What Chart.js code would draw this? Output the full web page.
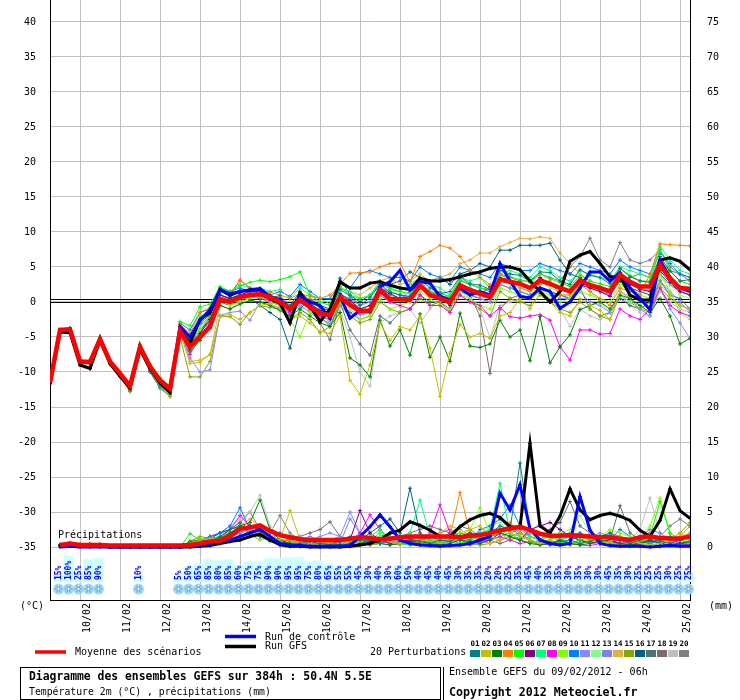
<!DOCTYPE html>
<html>
<head>
<meta charset="utf-8">
<script src="https://cdn.jsdelivr.net/npm/chart.js@4.4.1/dist/chart.umd.min.js"></script>
<style>
  body { margin: 0; background: #fff; }
  canvas { display: block; }
</style>
</head>
<body>
<canvas id="ensemble" width="740" height="700"></canvas>
<script>
// forecast steps (hours after 09/02/2012 06h)
const hours = [0,6,12,18,24,30,36,42,48,54,60,66,72,78,84,90,96,102,108,114,120,126,132,138,144,150,156,162,168,174,180,186,192,198,204,210,216,222,228,234,240,246,252,258,264,270,276,282,288,294,300,306,312,318,324,330,336,342,348,354,360,366,372,378,384];
const dayHours = [18,42,66,90,114,138,162,186,210,234,258,282,306,330,354,378];
const dayLabels = ["10/02","11/02","12/02","13/02","14/02","15/02","16/02","17/02","18/02","19/02","20/02","21/02","22/02","23/02","24/02","25/02"];
const tempTicks = [-35,-30,-25,-20,-15,-10,-5,0,5,10,15,20,25,30,35,40];
const rainTicks = [0,5,10,15,20,25,30,35,40,45,50,55,60,65,70,75];
const tempRange = [-42.57, 43.14];
const rainOffset = 35;

// probability of precipitation (%), per step
const rainProb = [null,15,100,25,85,90,null,null,null,10,null,null,null,
  5,50,65,85,80,85,60,75,75,90,90,95,95,
  75,80,65,55,55,45,30,40,30,60,50,40,45,
  40,45,30,35,35,20,20,25,35,45,40,35,35,
  30,35,30,30,45,35,30,25,25,25,30,25,25];

// 2m temperature (°C)
const tMean = [-11.5,-4.0,-3.9,-8.5,-8.6,-5.3,-8.5,-10.2,-12.0,-6.4,-9.2,-11.2,-12.4,
  -4.2,-6.4,-5.0,-3.5,0.4,0.0,0.7,1.0,1.1,0.7,0.0,-1.0,0.3,
  -0.7,-1.6,-1.9,0.7,-0.4,-1.3,-1.2,1.7,0.4,0.4,0.3,2.4,1.0,
  0.5,0.0,2.4,1.7,1.2,0.7,3.2,2.9,2.6,2.0,3.1,2.6,2.0,
  1.5,3.1,2.4,2.0,1.5,3.9,2.9,2.2,2.2,5.3,3.4,2.0,1.9];
const tControl = [-11.5,-4.0,-3.8,-8.5,-8.5,-5.2,-8.5,-10.2,-12.0,-6.3,-9.2,-11.2,-12.4,
  -3.5,-5.0,-2.6,-1.1,1.7,1.2,1.5,1.7,1.9,0.8,0.3,-1.1,0.8,
  0.0,-0.5,-2.3,0.8,-2.3,-1.2,-1.4,2.2,2.9,4.5,1.7,2.9,2.7,
  0.8,0.3,2.0,1.0,1.5,1.0,5.5,3.0,0.8,0.6,2.0,1.5,-0.9,
  0.0,2.0,4.3,4.3,3.0,4.2,2.0,0.5,-1.1,6.0,3.5,2.0,1.5];
const tGfs = [-11.7,-4.3,-4.4,-9.0,-9.5,-5.5,-8.8,-10.6,-12.3,-6.8,-9.5,-11.5,-12.9,
  -4.0,-5.9,-2.5,-1.5,1.8,1.0,1.5,1.7,1.8,0.5,-0.2,-3.0,1.3,
  -0.5,-2.8,-1.0,2.9,2.0,2.0,2.7,2.9,2.4,2.0,1.8,3.4,3.0,
  3.0,3.2,3.6,4.0,4.3,4.8,5.0,5.0,4.6,3.0,1.5,0.0,1.5,
  5.8,6.7,7.2,5.5,3.6,3.6,1.0,0.3,0.3,6.0,6.3,5.8,4.6];

const t01 = [-11.5,-4.1,-3.9,-8.4,-8.7,-5.2,-8.7,-10.6,-12.5,-6.8,-9.8,-12.0,-13.0,
  -3.6,-5.5,-3.0,-1.8,1.6,0.8,1.5,1.8,1.2,0.6,0.9,-0.5,1.5,
  0.2,-0.8,-1.2,1.8,0.9,-0.5,0.6,2.5,1.4,1.0,0.8,3.2,2.0,
  1.2,1.5,3.6,2.6,2.4,1.8,4.5,4.0,3.8,3.0,4.3,4.2,3.0,
  2.5,4.6,3.8,3.5,2.6,4.8,3.6,3.0,2.8,6.5,4.4,3.0,3.2];
const t02 = [-11.5,-4.3,-4.0,-8.7,-8.9,-5.6,-8.9,-10.5,-12.7,-6.8,-9.7,-12.2,-13.4,
  -4.0,-8.8,-8.6,-7.5,-2.0,-1.8,-2.5,-1.5,-0.5,-0.2,-1.0,-2.5,-2.0,
  -3.0,-4.2,-4.5,-2.0,-11.2,-13.2,-9.0,-3.0,-5.5,-3.5,-4.0,-2.0,-6.6,
  -13.5,-7.3,-3.2,-5.0,-4.5,-5.2,-2.0,-1.5,0.5,-1.0,1.2,0.0,-1.5,
  -2.0,0.5,-0.5,-1.2,-2.5,1.5,0.8,0.2,-0.8,2.5,1.0,-0.5,-1.0];
const t03 = [-11.5,-4.0,-3.8,-8.5,-8.5,-5.3,-8.5,-10.4,-12.3,-6.6,-9.5,-11.8,-12.8,
  -4.5,-7.0,-5.5,-3.5,-0.5,-1.0,-0.3,0.2,0.0,-0.5,-1.2,-2.0,-1.0,
  -2.0,-3.0,-3.5,-1.5,-8.0,-9.0,-10.7,-2.6,-6.3,-4.0,-7.6,-1.7,-7.9,
  -5.0,-8.5,-1.6,-6.3,-6.5,-6.0,-2.6,-5.0,-4.0,-8.4,-2.1,-8.7,-6.4,
  -4.7,-1.1,-0.5,0.0,-1.0,1.0,0.5,-0.5,-1.5,0.5,-2.0,-6.0,-5.2];
const t04 = [-11.5,-4.0,-3.9,-8.4,-8.6,-5.2,-8.4,-10.1,-11.9,-6.3,-9.1,-11.0,-12.2,
  -3.2,-4.5,-1.5,-0.8,1.8,1.2,3.1,2.0,1.5,1.4,1.0,0.5,1.2,
  0.8,0.5,1.0,2.5,4.1,4.2,4.3,5.0,5.5,5.6,2.9,6.5,7.2,
  8.1,7.7,6.5,4.6,3.5,2.5,4.0,3.0,2.0,1.5,2.5,3.0,1.0,
  1.0,2.5,1.5,0.5,-0.5,2.0,1.5,1.0,4.0,8.3,8.2,8.1,8.0];
const t05 = [-11.5,-4.0,-3.7,-8.3,-8.3,-5.0,-8.3,-10.0,-11.8,-6.1,-8.9,-10.8,-12.0,
  -2.8,-3.4,-0.7,-0.3,2.2,1.5,2.3,2.8,3.1,2.9,3.2,3.6,4.3,
  1.0,0.5,-0.3,2.2,1.0,0.5,0.8,2.8,1.8,1.5,1.2,3.0,1.5,
  1.2,0.8,3.2,2.5,2.0,1.8,3.8,3.6,3.2,2.8,4.0,3.3,2.8,
  2.2,3.8,3.0,2.6,2.2,4.8,3.8,3.0,3.0,7.5,4.5,3.0,2.5];
const t06 = [-11.5,-4.1,-3.9,-8.5,-8.6,-5.3,-8.6,-10.2,-12.2,-6.5,-9.4,-11.5,-12.6,
  -4.0,-6.0,-4.5,-2.5,1.0,0.5,1.0,1.5,1.4,0.8,0.5,-0.6,0.8,
  -0.3,-1.2,-2.0,1.2,0.2,-1.0,-0.5,2.0,1.2,0.5,0.8,2.4,0.9,
  1.0,-0.5,2.5,1.5,1.0,2.2,3.5,3.0,2.8,2.0,3.5,2.5,2.0,
  1.5,2.5,2.0,1.5,0.8,3.5,2.5,1.8,1.5,4.5,2.8,1.5,1.0];
const t07 = [-11.5,-3.9,-3.8,-8.4,-8.5,-5.2,-8.5,-10.2,-12.0,-6.3,-9.2,-11.3,-12.4,
  -3.5,-5.0,-2.0,-1.5,1.5,1.5,2.5,2.0,2.0,1.5,1.8,0.5,2.0,
  1.0,0.0,-0.5,2.0,1.5,0.5,1.0,3.0,2.0,1.5,2.5,3.5,2.5,
  2.0,1.0,3.5,3.0,3.5,2.0,4.0,4.5,4.0,3.5,5.0,4.5,3.5,
  3.0,4.5,4.0,3.5,3.0,5.0,4.5,4.0,3.5,8.0,6.0,4.5,4.0];
const t08 = [-11.5,-4.0,-3.9,-8.6,-8.7,-5.4,-8.6,-10.3,-12.2,-6.6,-9.6,-11.7,-12.7,
  -4.5,-7.5,-5.0,-3.0,1.5,1.0,3.1,2.0,1.0,0.2,0.5,-1.5,0.0,
  -1.0,-2.0,-2.5,0.5,-0.5,-1.5,-1.0,1.5,0.0,-0.5,-1.0,1.0,-0.5,
  -0.5,-1.5,1.0,0.0,-0.5,-2.0,-0.8,-2.1,-2.3,-2.0,-1.8,-2.6,-6.4,
  -8.3,-4.0,-4.0,-4.6,-4.5,-1.0,-2.0,-2.5,-1.0,2.0,-0.5,-1.5,-2.0];
const t09 = [-11.5,-4.0,-3.8,-8.5,-8.5,-5.3,-8.5,-10.2,-12.1,-6.4,-9.3,-11.4,-12.5,
  -3.8,-6.5,-4.0,-2.0,0.5,-0.5,0.0,0.5,0.8,0.0,-0.5,-2.5,-5.0,
  -1.5,-2.0,-2.8,0.0,-1.0,-2.5,-2.0,0.5,-1.0,-0.5,0.0,1.5,0.5,
  -0.5,-1.0,1.5,0.5,-0.5,-1.0,2.0,1.5,1.0,0.5,1.5,1.0,0.0,
  0.5,1.5,1.0,0.5,0.0,2.5,1.5,1.0,0.5,4.0,1.5,-1.5,-2.5];
const t10 = [-11.5,-4.0,-3.8,-8.4,-8.5,-5.2,-8.4,-10.1,-12.0,-6.3,-9.1,-11.2,-12.3,
  -3.0,-4.0,-1.5,-1.0,2.0,1.5,2.0,1.5,1.5,1.0,1.5,0.8,2.5,
  1.5,0.5,0.5,2.5,2.0,4.0,4.5,4.0,3.5,3.5,3.0,5.0,4.0,
  3.5,3.0,5.0,4.5,4.0,3.5,5.5,5.0,4.5,4.5,5.5,5.0,4.5,
  4.0,5.5,5.0,4.5,4.0,6.0,5.0,4.5,4.0,7.0,5.5,4.0,3.5];
const t11 = [-11.5,-4.1,-3.9,-8.6,-8.8,-5.5,-8.7,-10.5,-12.5,-6.8,-9.8,-12.0,-13.2,
  -4.5,-8.0,-10.0,-9.7,-1.9,-1.5,-1.3,-2.6,0.0,-0.5,-0.8,-1.8,-0.5,
  -1.5,-2.5,-3.0,0.5,-0.5,-1.8,-1.5,1.0,0.0,0.5,1.5,2.5,1.0,
  1.5,0.5,2.0,1.0,0.5,0.0,2.5,2.0,1.5,1.0,2.0,1.5,0.5,
  0.5,1.5,0.0,-0.5,-1.5,1.5,0.5,-1.0,-2.0,2.0,-1.0,-3.0,-5.2];
const t12 = [-11.5,-4.0,-3.9,-8.5,-8.6,-5.3,-8.5,-10.2,-12.1,-6.4,-9.3,-11.3,-12.5,
  -3.8,-5.8,-3.5,-2.5,0.8,0.2,1.2,1.0,1.8,1.0,0.5,-0.8,-1.0,
  -0.5,-1.0,-1.5,1.5,0.0,-1.0,-0.5,2.0,0.8,0.5,0.0,2.0,1.0,
  0.5,0.0,2.0,1.5,1.0,0.5,3.0,2.5,2.0,1.5,3.0,2.0,1.5,
  0.5,2.5,1.5,0.0,-1.5,1.0,0.0,-0.5,0.5,3.5,2.5,1.0,0.5];
const t13 = [-11.5,-4.1,-3.9,-8.5,-8.6,-5.4,-8.6,-10.3,-12.2,-6.6,-9.5,-11.6,-12.7,
  -4.0,-6.0,-4.0,-3.0,0.5,0.0,0.8,1.2,1.0,0.5,0.2,-1.0,0.5,
  0.0,-1.5,-1.5,1.0,0.5,-0.5,0.0,2.0,1.5,1.0,0.5,2.5,1.5,
  1.0,0.5,2.5,2.0,1.5,1.0,3.5,3.0,2.5,2.0,3.0,2.5,2.0,
  1.5,3.0,2.5,2.0,1.0,3.5,2.0,1.0,-1.0,3.0,1.5,0.0,-1.5];
const t14 = [-11.5,-4.1,-4.0,-8.6,-8.7,-5.5,-8.7,-10.4,-12.4,-6.7,-9.6,-11.8,-13.0,
  -4.5,-8.5,-8.3,-7.5,-0.5,-1.0,0.0,0.5,1.0,0.3,0.0,-0.8,0.5,
  0.5,0.0,-0.5,2.0,1.5,1.0,2.0,3.0,3.5,2.5,3.0,4.0,3.0,
  3.5,4.0,5.5,6.0,7.0,7.0,7.9,8.5,9.1,9.0,9.3,9.1,7.0,
  5.5,4.0,3.0,2.0,1.5,3.5,2.5,2.0,1.5,5.0,3.0,2.0,1.5];
const t15 = [-11.5,-4.2,-4.0,-8.7,-8.8,-5.6,-8.8,-10.6,-12.6,-6.9,-9.9,-12.2,-13.5,
  -5.0,-10.7,-10.7,-8.5,-2.1,-2.1,-3.2,-1.5,-0.5,-0.8,-1.0,-2.5,-1.5,
  -2.5,-4.4,-3.5,-0.5,-2.0,-3.0,-2.5,0.0,-1.0,-1.5,-1.0,0.5,-0.5,
  0.0,-1.5,1.0,0.0,-1.0,-2.0,1.5,0.5,0.0,-0.5,1.0,0.0,-1.0,
  -1.5,0.0,-1.0,-2.0,-2.5,1.0,0.0,-1.0,-1.5,2.0,0.5,-0.5,-1.0];
const t16 = [-11.5,-4.1,-3.9,-8.6,-8.7,-5.4,-8.8,-10.6,-12.8,-6.9,-10.0,-12.3,-13.5,
  -4.0,-6.5,-4.5,-2.0,1.0,0.5,1.0,0.5,-0.5,-1.5,-2.5,-6.6,-1.0,
  0.5,-0.5,-1.0,3.4,1.0,0.0,1.0,2.5,2.5,3.0,4.3,3.5,3.0,
  3.5,2.5,4.0,4.5,5.5,5.0,7.4,7.4,8.1,8.1,8.1,8.4,6.0,
  4.0,3.5,2.5,2.0,1.5,3.0,2.0,1.5,1.0,4.0,2.5,1.5,1.0];
const t17 = [-11.5,-4.0,-3.9,-8.5,-8.6,-5.4,-8.7,-10.5,-12.6,-6.7,-9.7,-12.0,-13.2,
  -4.2,-6.8,-5.0,-3.8,0.0,-0.5,0.2,0.8,0.5,0.0,-0.5,-1.5,0.0,
  -1.0,-2.0,-3.5,0.0,-4.0,-6.0,-7.6,-2.0,-3.0,-1.5,-1.0,1.0,0.0,
  0.0,-1.0,1.5,1.0,0.5,0.0,2.5,2.0,1.5,1.0,2.0,1.5,1.0,
  0.5,2.0,-1.0,-2.0,-1.5,0.5,-0.5,-1.0,0.0,3.0,1.0,0.5,-1.0];
const t18 = [-11.5,-4.1,-3.9,-8.6,-8.7,-5.4,-8.7,-10.5,-12.5,-6.7,-9.7,-11.9,-13.1,
  -4.2,-6.5,-4.0,-2.5,0.8,0.3,0.5,1.0,0.8,0.2,-0.3,-1.8,0.0,
  -1.0,-3.0,-5.4,0.0,-1.5,-2.5,-2.0,1.0,0.0,0.5,0.0,2.0,1.0,
  0.5,-0.5,2.0,1.0,-2.0,-10.2,-1.0,0.5,1.0,0.5,2.0,1.5,1.0,
  0.5,2.5,2.0,1.5,1.0,3.0,3.5,4.0,3.5,5.5,4.5,4.0,3.5];
const t19 = [-11.5,-4.0,-3.8,-8.5,-8.6,-5.3,-8.6,-10.3,-12.3,-6.5,-9.4,-11.6,-12.8,
  -3.8,-5.5,-3.0,-2.5,0.5,0.0,0.5,1.0,0.5,0.5,0.0,-1.0,0.5,
  -1.5,-2.5,-3.0,-1.0,-5.0,-10.0,-12.0,-3.0,-2.0,-1.5,-1.0,-3.0,-1.0,
  0.5,-0.5,1.0,0.5,-1.0,-5.1,-0.5,0.0,0.5,0.5,1.5,0.5,-1.0,
  -3.5,-1.0,-2.0,-2.5,-1.5,1.0,-0.5,-1.5,-2.0,1.5,0.0,-1.0,-1.5];
const t20 = [-11.5,-4.0,-3.8,-8.5,-8.5,-5.3,-8.5,-10.4,-12.4,-6.6,-9.6,-11.8,-13.0,
  -4.0,-6.0,-3.5,-2.0,1.0,0.5,1.0,1.5,1.0,0.5,0.0,-1.0,0.5,
  -0.5,-1.5,-2.0,1.0,0.5,-1.0,-0.5,2.0,1.0,0.5,0.5,2.5,1.5,
  1.0,0.5,3.0,2.5,2.0,1.5,4.0,3.5,3.0,3.0,4.0,3.5,3.0,
  5.0,6.5,9.1,6.0,5.0,8.5,6.0,5.5,6.0,7.5,5.0,4.0,3.0];

// 6h precipitation (mm), first step has no accumulation
const pMean = [null,0.3,0.5,0.3,0.3,0.3,0.2,0.2,0.2,0.2,0.2,0.2,0.2,
  0.2,0.3,0.5,0.8,0.9,1.5,2.6,2.8,3.1,2.3,1.7,1.4,1.1,
  1.0,1.0,1.0,1.0,1.2,1.4,1.3,1.1,1.2,1.4,1.5,1.5,1.5,
  1.5,1.5,1.4,1.6,1.7,2.0,2.4,2.6,2.9,2.4,1.9,1.6,1.6,
  1.7,1.6,1.5,1.4,1.4,1.2,1.0,1.4,1.5,1.3,1.2,1.2,1.5];
const pControl = [null,0,0.1,0,0,0,0,0,0,0,0,0,0,
  0,0.1,0.2,0.5,0.8,1.0,1.5,2.0,2.5,1.5,0.5,0.3,0.2,
  0.1,0.1,0.1,0.1,0.2,1.5,2.9,4.6,2.9,1.0,0.5,0.3,0.2,
  0.1,0.2,0.3,0.5,1.0,1.5,7.7,5.3,8.9,2.6,1.0,0.5,0.3,
  0.5,7.2,2.4,0.5,0.2,0.1,0.1,0.1,0,0.1,0.2,0.1,0.1];
const pGfs = [null,0.2,0.4,0.3,0.3,0.1,0,0,0,0,0,0,0,
  0,0,0.1,0.2,0.5,0.8,1.0,1.5,1.8,1.0,0.3,0.1,0.1,
  0,0,0,0,0.1,0.3,0.5,1.0,2.0,2.4,3.6,3.1,2.4,
  1.5,1.5,2.9,3.9,4.5,4.8,4.2,2.9,2.8,14.8,3.0,2.0,4.4,
  8.3,5.3,3.9,4.5,4.8,4.4,3.8,2.4,1.5,3.8,8.3,5.2,4.1];

const p01 = [null,0.3,0.5,0.2,0.4,0.3,0,0,0,0.1,0,0,0,
  0,0.2,0.5,0.8,1.5,2.5,3.0,2.0,1.5,0.8,0.5,0.3,0.5,
  0.8,0.5,0.3,0.2,0.5,1.0,0.8,0.5,1.0,1.5,1.2,0.8,0.5,
  1.0,0.8,1.5,2.0,1.5,2.0,3.0,2.5,12.0,2.5,1.0,0.5,0.8,
  1.0,0.5,0.8,1.5,2.0,1.0,0.5,1.0,1.5,0.8,0.5,1.0,1.5];
const p02 = [null,0.2,0.6,0.3,0.3,0.4,0,0,0,0.2,0,0,0,
  0,0.5,1.0,1.2,1.0,1.5,2.5,1.8,1.0,1.5,1.0,5.2,1.0,
  0.5,0.3,0.5,1.0,0.5,0.3,0.5,1.0,0.8,0.5,1.5,1.0,0.8,
  0.5,1.0,1.5,2.5,3.0,1.5,1.0,2.0,1.5,1.0,0.5,1.0,1.5,
  2.0,1.5,1.0,0.5,0.8,1.5,1.0,0.5,0.3,0.5,1.0,2.0,1.0];
const p03 = [null,0.3,0.4,0.2,0.3,0.2,0,0,0,0,0,0,0,
  0,0.8,1.0,0.8,1.2,2.0,3.0,3.5,6.7,2.5,1.0,0.5,0.3,
  0.2,0.3,0.5,0.3,0.2,0.5,1.0,0.5,0.3,0.5,0.8,1.0,0.5,
  0.3,0.5,1.0,0.8,0.5,1.0,2.0,1.5,1.0,0.5,0.3,0.5,1.0,
  0.5,0.3,0.5,1.0,0.8,0.5,0.3,0.5,1.0,0.5,0.3,0.5,0.8];
const p04 = [null,0.2,0.3,0.2,0.5,0.3,0,0,0,0.1,0,0,0,
  0,0.3,0.6,1.0,1.5,2.0,2.8,2.5,2.0,1.0,0.8,1.0,0.5,
  0.3,0.5,0.8,1.0,0.5,0.3,0.5,0.8,1.0,0.5,0.8,0.5,0.3,
  0.5,1.5,7.8,2.0,1.0,1.5,2.0,3.5,2.0,1.0,0.5,0.8,0.5,
  0.3,0.5,0.8,1.0,0.5,0.3,0.5,0.8,1.5,1.0,0.5,1.5,3.0];
const p05 = [null,0.3,0.5,0.3,0.3,0.2,0,0,0,0.2,0,0,0,
  0,1.9,1.0,0.8,1.5,2.0,3.0,2.5,2.0,1.5,1.0,0.5,0.5,
  0.3,0.5,0.5,0.3,0.8,1.0,1.5,2.5,1.0,0.5,0.3,0.5,1.0,
  0.5,0.3,0.5,1.0,1.5,2.0,2.5,1.5,1.0,0.5,1.0,1.5,0.8,
  0.5,1.0,1.5,1.0,0.5,0.3,0.5,1.0,1.5,6.5,2.0,1.0,0.5];
const p06 = [null,0.3,0.4,0.2,0.2,0.3,0,0,0,0,0,0,0,
  0,0.3,0.5,0.8,1.2,1.8,2.5,3.0,2.5,1.5,0.8,0.5,0.3,
  0.5,0.3,0.5,0.8,1.0,5.2,2.0,1.0,0.5,0.8,1.0,0.5,0.3,
  0.5,1.0,1.5,2.0,1.0,1.5,2.0,1.5,1.0,2.5,3.0,3.5,2.5,
  1.5,1.0,0.5,0.8,1.0,0.5,0.3,0.5,1.0,0.5,0.3,0.5,0.8];
const p07 = [null,0.2,0.3,0.2,0.3,0.2,0,0,0,0.1,0,0,0,
  0,0.5,0.8,1.0,1.5,2.0,2.5,3.0,2.0,1.0,0.8,0.5,0.8,
  0.5,0.3,0.5,0.5,1.0,1.5,1.0,2.0,1.5,1.0,2.0,6.7,1.5,
  0.8,0.5,1.0,1.5,2.0,2.5,9.1,2.0,1.0,1.5,1.0,0.5,1.0,
  1.5,1.0,0.5,0.5,1.0,1.5,1.0,0.5,0.3,0.5,1.0,1.5,1.0];
const p08 = [null,0.3,0.4,0.3,0.2,0.2,0,0,0,0.1,0,0,0,
  0,0.2,0.5,1.0,1.2,2.5,4.5,3.0,2.0,1.5,1.0,0.5,0.3,
  0.2,0.5,0.3,0.5,0.8,2.0,4.6,2.5,1.0,0.5,0.8,1.0,2.0,
  6.0,2.0,1.0,0.5,0.8,1.0,1.5,1.0,0.5,0.8,0.3,0.5,0.3,
  0.5,0.3,0.2,0.5,0.8,1.0,0.5,0.3,0.5,0.2,0.3,0.5,0.3];
const p09 = [null,0.3,0.5,0.3,0.4,0.3,0,0,0,0.1,0,0,0,
  0,0.6,1.2,1.0,1.5,2.0,3.0,2.0,1.5,1.0,0.8,1.0,0.5,
  0.5,0.3,0.8,1.0,0.5,0.3,0.5,1.0,0.8,1.5,1.0,0.5,0.8,
  1.0,1.5,2.0,2.5,5.6,2.0,1.5,1.0,2.0,1.5,1.0,2.0,1.0,
  0.5,0.8,1.0,1.5,2.5,2.0,1.5,1.0,3.0,7.0,2.0,1.0,0.5];
const p10 = [null,0.2,0.4,0.2,0.3,0.2,0,0,0,0,0,0,0,
  0,0.3,0.8,1.5,2.0,3.0,5.6,2.5,1.5,1.0,2.0,1.0,0.5,
  0.3,0.5,0.8,1.0,1.5,1.0,0.5,1.0,1.5,1.0,0.5,1.0,1.5,
  1.0,2.0,1.5,1.0,2.5,3.0,4.0,6.0,3.0,1.5,1.0,0.5,1.0,
  1.5,2.0,1.0,0.5,1.0,2.5,1.5,1.0,0.5,1.0,1.5,0.5,0.3];
const p11 = [null,0.3,0.5,0.3,0.3,0.4,0,0,0,0.2,0,0,0,
  0,0.5,1.0,1.5,1.0,1.5,2.0,2.5,2.0,1.5,1.8,1.5,1.5,
  1.0,1.5,2.0,1.5,5.0,2.0,1.0,0.5,0.8,1.0,0.5,0.3,0.5,
  0.8,1.0,0.5,0.3,0.5,1.0,2.0,1.5,1.0,2.0,3.5,2.0,1.0,
  0.5,1.0,1.5,2.0,1.5,1.0,0.5,1.0,1.5,1.0,0.5,0.3,0.5];
const p12 = [null,0.2,0.3,0.2,0.2,0.3,0,0,0,0.1,0,0,0,
  0,0.3,0.6,0.8,1.0,2.0,3.0,2.5,2.0,1.0,0.5,0.3,0.5,
  0.8,1.0,0.5,0.3,0.5,0.8,1.0,1.5,1.0,0.5,0.3,0.5,1.0,
  1.5,1.0,0.5,1.0,2.0,3.0,3.5,2.0,1.5,1.0,0.5,1.0,2.0,
  2.5,4.5,2.0,1.0,0.5,0.8,1.5,1.0,0.5,1.0,1.5,1.0,0.8];
const p13 = [null,0.3,0.4,0.3,0.3,0.2,0,0,0,0.1,0,0,0,
  0,0.2,0.4,0.8,1.0,1.5,2.0,3.0,2.5,1.5,1.0,0.5,1.0,
  1.5,1.0,0.5,0.5,4.0,2.0,1.0,0.5,0.3,0.5,1.0,1.5,1.0,
  0.5,0.3,0.5,1.0,1.5,2.0,2.5,3.0,2.0,1.0,0.5,0.3,0.5,
  1.0,1.5,1.0,0.5,0.3,0.5,1.0,1.5,2.5,2.0,1.0,0.5,0.8];
const p14 = [null,0.3,0.5,0.2,0.4,0.3,0,0,0,0.1,0,0,0,
  0,0.5,0.8,1.0,1.5,2.0,3.0,4.0,3.0,1.5,1.0,0.8,0.5,
  0.3,0.5,0.8,0.5,0.3,0.5,1.0,0.8,0.5,0.3,0.5,0.8,1.0,
  2.0,3.0,2.5,1.5,1.0,0.5,1.0,1.5,3.5,2.0,1.0,0.5,0.3,
  0.5,1.0,0.8,0.5,0.3,0.5,1.0,1.5,1.0,0.5,0.8,1.5,2.0];
const p15 = [null,0.2,0.4,0.3,0.3,0.3,0,0,0,0.1,0,0,0,
  0,0.8,1.5,1.2,1.0,1.5,2.0,2.5,2.0,1.5,1.0,0.5,0.3,
  0.2,0.3,0.5,0.8,1.0,0.5,0.3,0.5,1.0,1.5,1.0,0.5,0.3,
  0.5,0.8,1.0,0.5,0.3,0.5,1.0,1.5,1.0,0.5,0.8,1.0,0.5,
  0.3,0.5,0.8,1.0,0.5,0.3,0.5,0.8,1.0,1.5,1.0,2.0,3.5];
const p16 = [null,0.3,0.5,0.3,0.3,0.2,0,0,0,0.1,0,0,0,
  0,0.4,0.8,1.2,2.0,2.5,3.0,2.5,1.5,1.0,0.5,0.3,0.5,
  0.8,1.0,0.5,0.3,0.5,1.0,2.0,3.0,4.0,2.0,8.4,2.0,1.0,
  0.5,0.8,1.0,1.5,2.0,1.5,2.0,3.0,1.5,1.0,0.5,1.0,2.0,
  1.5,1.0,0.5,0.8,1.0,0.5,0.3,0.5,0.8,1.0,0.5,0.3,0.5];
const p17 = [null,0.2,0.4,0.2,0.3,0.3,0,0,0,0.1,0,0,0,
  0,0.5,0.8,1.5,2.0,2.5,3.5,2.5,1.5,1.0,0.5,0.3,0.3,
  0.5,0.3,0.5,0.8,1.0,0.5,1.0,1.5,2.0,1.5,1.0,0.5,0.8,
  1.0,1.5,2.0,1.5,1.0,0.5,1.0,1.5,2.0,1.5,1.0,2.5,3.5,
  6.5,3.0,2.0,1.5,1.0,5.9,2.0,1.0,0.5,1.0,1.5,0.5,0.3];
const p18 = [null,0.3,0.5,0.3,0.2,0.3,0,0,0,0.1,0,0,0,
  0,0.3,0.5,0.8,1.0,1.5,2.0,3.0,2.5,1.5,1.0,1.0,1.5,
  2.0,2.5,3.6,1.5,1.0,0.5,0.3,0.5,1.0,1.5,2.0,2.5,3.0,
  2.5,2.0,3.0,2.5,1.5,1.0,0.5,1.0,1.5,1.0,0.5,0.3,0.5,
  1.0,1.5,1.0,0.5,0.3,0.5,1.0,1.5,2.0,1.0,0.5,1.0,2.0];
const p19 = [null,0.3,0.4,0.2,0.3,0.2,0,0,0,0.1,0,0,0,
  0,0.5,1.0,1.5,2.0,3.0,4.0,5.0,7.4,3.0,1.5,1.0,0.5,
  0.3,0.5,0.8,1.0,0.5,0.3,0.5,0.8,1.0,0.5,0.3,0.5,0.8,
  1.0,1.5,1.0,0.5,0.8,1.0,1.5,2.0,1.0,0.5,1.0,1.5,1.0,
  0.5,0.8,1.0,1.5,1.0,0.5,1.0,2.5,7.0,2.0,1.0,0.5,1.0];
const p20 = [null,0.2,0.4,0.3,0.3,0.3,0,0,0,0.1,0,0,0,
  0,0.4,0.8,1.2,1.5,2.5,3.5,5.0,2.5,2.0,4.5,2.0,1.0,
  0.5,0.8,1.0,1.5,1.0,0.5,0.8,1.0,1.5,1.0,0.5,0.8,1.5,
  2.0,2.5,1.5,1.0,0.5,1.0,1.5,2.0,2.5,1.5,1.0,0.5,1.0,
  1.5,2.0,1.5,1.0,2.0,1.5,1.0,0.5,1.0,1.5,3.0,4.0,3.0];

const memberNames = ["01","02","03","04","05","06","07","08","09","10","11","12","13","14","15","16","17","18","19","20"];
const memberColors = ["#008080","#c0c000","#008000","#ff8000","#00ff00","#800080","#00ff80","#ff00ff","#80ff00","#0080ff","#8888ff","#80ff80","#7f7ff0","#e0b040","#80a800","#006080","#507078","#806870","#c0c0c0","#808080"];
const tempMembers = [t01,t02,t03,t04,t05,t06,t07,t08,t09,t10,t11,t12,t13,t14,t15,t16,t17,t18,t19,t20];
const rainMembers = [p01,p02,p03,p04,p05,p06,p07,p08,p09,p10,p11,p12,p13,p14,p15,p16,p17,p18,p19,p20];

const MONO = '"DejaVu Sans Mono", monospace';

[tMean, tControl, tGfs, pMean, pControl, pGfs, rainProb].concat(tempMembers, rainMembers).forEach((a, k) => {
    if (a.length !== hours.length) throw new Error("bad length in series " + k + ": " + a.length);
});

function points(values) {
    return values.map((v, i) => ({ x: hours[i], y: v }));
}

const datasets = [];

// ensemble mean on top
datasets.push({ data: points(tMean), yAxisID: "y", borderColor: "#ff0000", borderWidth: 4.5, pointRadius: 0, order: 0 });
datasets.push({ data: points(pMean), yAxisID: "yp", borderColor: "#ff0000", borderWidth: 4.5, pointRadius: 0, order: 0 });

// control and GFS runs
[[tControl, pControl, "#0000ff"], [tGfs, pGfs, "#000000"]].forEach(run => {
    [[run[0], "y"], [run[1], "yp"]].forEach(s => {
        datasets.push({
            data: points(s[0]), yAxisID: s[1], borderColor: run[2], borderWidth: 3,
            pointStyle: "cross", pointRadius: 2, pointBorderWidth: 1, pointBorderColor: run[2], order: 1
        });
    });
});

// 20 perturbations
memberColors.forEach((color, m) => {
    [[tempMembers[m], "y"], [rainMembers[m], "yp"]].forEach(s => {
        datasets.push({
            data: points(s[0]), yAxisID: s[1], borderColor: color, borderWidth: 1,
            pointStyle: "cross", pointRadius: 2, pointBorderWidth: 1, pointBorderColor: color, order: 2
        });
    });
});

function drawFlake(ctx, x, y) {
    ctx.fillStyle = "#a6d9f3";
    ctx.beginPath();
    ctx.arc(x, y, 5.5, 0, Math.PI * 2);
    ctx.fill();
    ctx.strokeStyle = "#4f9fdc";
    ctx.lineWidth = 1;
    ctx.beginPath();
    for (let k = 0; k < 3; k++) {
        const a = k * Math.PI / 3;
        ctx.moveTo(x - 4 * Math.cos(a), y - 4 * Math.sin(a));
        ctx.lineTo(x + 4 * Math.cos(a), y + 4 * Math.sin(a));
    }
    ctx.stroke();
    ctx.fillStyle = "#e6f6ff";
    ctx.fillRect(x - 1, y - 1, 2, 2);
}

function text(ctx, str, x, y, font, align) {
    ctx.font = font;
    ctx.textAlign = align || "left";
    ctx.textBaseline = "middle";
    ctx.fillText(str, x, y);
}

const decor = {
    id: "decor",
    beforeDatasetsDraw(chart) {
        const { ctx, scales: { x, y } } = chart;
        ctx.save();
        // probability bars behind the percentages
        const base = y.getPixelForValue(-40);
        ctx.fillStyle = "#ccffff";
        rainProb.forEach((p, i) => {
            if (p == null) return;
            const px = x.getPixelForValue(hours[i]) - 1.5;
            const h = 4 + 22 * p / 100;
            ctx.fillRect(px - 5, base - h, 10, h);
        });
        // freezing line, drawn double
        const y0 = Math.round(y.getPixelForValue(0));
        ctx.strokeStyle = "#000";
        ctx.lineWidth = 1;
        ctx.beginPath();
        ctx.moveTo(x.left, y0 + 0.5);
        ctx.lineTo(x.right, y0 + 0.5);
        ctx.moveTo(x.left, y0 - 2.5);
        ctx.lineTo(x.right, y0 - 2.5);
        ctx.stroke();
        ctx.restore();
    },
    afterDraw(chart) {
        const { ctx, scales: { x, y } } = chart;
        const base = y.getPixelForValue(-40);
        ctx.save();

        // percentages and snow symbols
        rainProb.forEach((p, i) => {
            if (p == null) return;
            const px = x.getPixelForValue(hours[i]) - 1.5;
            ctx.save();
            ctx.translate(px, base - 2);
            ctx.rotate(-Math.PI / 2);
            ctx.fillStyle = "#0000ff";
            text(ctx, p + "%", 0, 0, "bold 8px " + MONO, "left");
            ctx.restore();
        });
        rainProb.forEach((p, i) => {
            if (p == null) return;
            drawFlake(ctx, x.getPixelForValue(hours[i]) - 1.5, base + 7);
        });

        // day labels
        ctx.fillStyle = "#000";
        dayHours.forEach((h, i) => {
            ctx.save();
            ctx.translate(x.getPixelForValue(h) + 7, x.top + 3);
            ctx.rotate(-Math.PI / 2);
            text(ctx, dayLabels[i], 0, 0, "10px " + MONO, "right");
            ctx.restore();
        });

        ctx.fillStyle = "#000";
        text(ctx, "Précipitations", 58, y.getPixelForValue(-33.4), "10px " + MONO);
        text(ctx, "(°C)", 20, 606, "10px " + MONO);
        text(ctx, "(mm)", 709, 606, "10px " + MONO);

        // legend
        ctx.lineWidth = 3.5;
        ctx.strokeStyle = "#ff0000";
        ctx.beginPath(); ctx.moveTo(35, 652); ctx.lineTo(66, 652); ctx.stroke();
        ctx.strokeStyle = "#0000ff";
        ctx.beginPath(); ctx.moveTo(225, 636.5); ctx.lineTo(256, 636.5); ctx.stroke();
        ctx.strokeStyle = "#000000";
        ctx.beginPath(); ctx.moveTo(225, 646.5); ctx.lineTo(256, 646.5); ctx.stroke();
        text(ctx, "Moyenne des scénarios", 75, 652, "10px " + MONO);
        text(ctx, "Run de contrôle", 265, 637, "10px " + MONO);
        text(ctx, "Run GFS", 265, 646.5, "10px " + MONO);
        text(ctx, "20 Perturbations", 370, 652, "10px " + MONO);
        memberColors.forEach((c, m) => {
            const lx = 470 + m * 11;
            ctx.fillStyle = c;
            ctx.fillRect(lx, 650, 10, 7);
            ctx.fillStyle = "#000";
            text(ctx, memberNames[m], lx + 5, 644, "bold 7.5px " + MONO, "center");
        });

        // title boxes
        ctx.strokeStyle = "#000";
        ctx.lineWidth = 1;
        ctx.strokeRect(20.5, 667.5, 420, 32);
        ctx.beginPath(); ctx.moveTo(443.5, 667); ctx.lineTo(443.5, 700); ctx.stroke();
        ctx.fillStyle = "#000";
        text(ctx, "Diagramme des ensembles GEFS sur 384h : 50.4N 5.5E", 29, 677.5, "bold 11.4px " + MONO);
        text(ctx, "Température 2m (°C) , précipitations (mm)", 29, 692, "9.8px " + MONO);
        text(ctx, "Ensemble GEFS du 09/02/2012 - 06h", 449, 672.5, "10px " + MONO);
        text(ctx, "Copyright 2012 Meteociel.fr", 449, 692.5, "bold 11.6px " + MONO);
        ctx.restore();
    }
};

function fixWidth(w) {
    return s => { s.width = w; s.paddingTop = 0; s.paddingBottom = 0; };
}

new Chart(document.getElementById("ensemble"), {
    type: "line",
    data: { datasets: datasets },
    options: {
        responsive: false,
        animation: false,
        events: [],
        layout: { padding: 0, autoPadding: false },
        elements: { line: { tension: 0 } },
        plugins: { legend: { display: false }, tooltip: { enabled: false } },
        scales: {
            x: {
                type: "linear",
                min: hours[0],
                max: hours[hours.length - 1],
                afterBuildTicks: s => { s.ticks = dayHours.map(v => ({ value: v })); },
                afterFit: s => { s.height = 100; s.paddingLeft = 0; s.paddingRight = 0; },
                ticks: { display: false },
                grid: { color: "#c0c0c0", lineWidth: 1, drawTicks: false },
                border: { color: "#000", width: 1 }
            },
            y: {
                position: "left",
                min: tempRange[0],
                max: tempRange[1],
                afterBuildTicks: s => { s.ticks = tempTicks.map(v => ({ value: v })); },
                afterFit: fixWidth(50),
                ticks: { color: "#000", font: { family: MONO, size: 10 }, padding: 14 },
                grid: { color: "#c0c0c0", lineWidth: 1, drawTicks: false },
                border: { color: "#000", width: 1 }
            },
            yp: {
                position: "right",
                min: tempRange[0] + rainOffset,
                max: tempRange[1] + rainOffset,
                afterBuildTicks: s => { s.ticks = rainTicks.map(v => ({ value: v })); },
                afterFit: fixWidth(50),
                ticks: { color: "#000", font: { family: MONO, size: 10 }, padding: 17 },
                grid: { display: false, drawTicks: false },
                border: { color: "#000", width: 1 }
            }
        }
    },
    plugins: [decor]
});
</script>
</body>
</html>
